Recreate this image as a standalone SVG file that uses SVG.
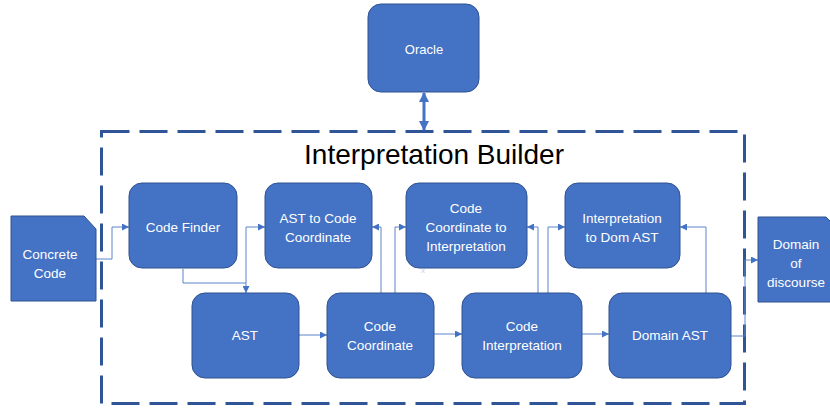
<svg xmlns="http://www.w3.org/2000/svg" width="830" height="409" viewBox="0 0 830 409">
<defs>
<style>
.box{fill:#4472C4;stroke:#2F528F;stroke-width:1}
.t{font-family:"Liberation Sans",Arial,sans-serif;font-size:13.5px;fill:#fff;text-anchor:middle}
.c{fill:none;stroke:#5B84CB;stroke-width:1}
</style>
<marker id="a" viewBox="0 0 10 10" refX="10" refY="5" markerWidth="7" markerHeight="7" markerUnits="userSpaceOnUse" orient="auto"><path d="M0,0 L10,5 L0,10 z" fill="#4472C4"/></marker>
<marker id="b" viewBox="0 0 10 10" refX="9" refY="5" markerWidth="3.5" markerHeight="3.5" orient="auto-start-reverse"><path d="M0,0 L10,5 L0,10 z" fill="#4472C4"/></marker>
</defs>
<rect x="101.5" y="131.5" width="643" height="272" fill="none" stroke="#2F5597" stroke-width="3" stroke-dasharray="28 10"/>
<text x="434" y="164" style="font-family:'Liberation Sans',Arial,sans-serif;font-size:28px;fill:#000;text-anchor:middle">Interpretation Builder</text>
<g id="connectors">
<line x1="424" y1="93" x2="424" y2="130" stroke="#4472C4" stroke-width="3" marker-start="url(#b)" marker-end="url(#b)"/>
<polyline class="c" points="96,259 112,259 112,227 129,227" marker-end="url(#a)"/>
<polyline class="c" points="183,269 183,283 246,283 246,293" marker-end="url(#a)"/>
<polyline class="c" points="246,283 246,227 265,227" marker-end="url(#a)"/>
<line class="c" x1="299" y1="335" x2="327" y2="335" marker-end="url(#a)"/>
<polyline class="c" points="381,293 381,227 372,227" marker-end="url(#a)"/>
<polyline class="c" points="395,293 395,227 406,227" marker-end="url(#a)"/>
<line class="c" x1="434" y1="334" x2="462" y2="334" marker-end="url(#a)"/>
<polyline class="c" points="538,293 538,227 527,227" marker-end="url(#a)"/>
<polyline class="c" points="548,293 548,227 565,227" marker-end="url(#a)"/>
<line class="c" x1="582" y1="334" x2="609" y2="334" marker-end="url(#a)"/>
<polyline class="c" points="706,293 706,227 680,227" marker-end="url(#a)"/>
<polyline class="c" points="731,336 745,336 745,260 758,260" marker-end="url(#a)"/>
</g>
<g id="oracle"><rect class="box" x="368" y="4" width="111" height="88" rx="13"/><text class="t" x="424" y="54" style="font-size:13px">Oracle</text></g>
<g id="concrete-code"><path class="box" d="M11,216 H84 L96,229 V301 H11 Z"/><text class="t" x="50" y="259">Concrete</text><text class="t" x="50" y="278">Code</text></g>
<g id="code-finder"><rect class="box" x="129" y="183" width="108" height="85" rx="13"/><text class="t" x="183" y="232">Code Finder</text></g>
<g id="ast-to-cc"><rect class="box" x="265" y="183" width="107" height="85" rx="13"/><text class="t" x="318" y="223">AST to Code</text><text class="t" x="318" y="242">Coordinate</text></g>
<g id="cc-to-interp"><rect class="box" x="406" y="183" width="121" height="85" rx="13"/><text class="t" x="466" y="213">Code</text><text class="t" x="466" y="232">Coordinate to</text><text class="t" x="466" y="251">Interpretation</text></g>
<text x="423" y="273" style="font-family:'Liberation Sans',Arial,sans-serif;font-size:8px;fill:#C8D2E6;text-anchor:middle">x</text>
<g id="interp-to-dom"><rect class="box" x="565" y="183" width="115" height="85" rx="13"/><text class="t" x="622" y="223">Interpretation</text><text class="t" x="622" y="242">to Dom AST</text></g>
<g id="domain-of-discourse"><path class="box" d="M758,217 H826 L834,225 V302 H758 Z"/><text class="t" x="796" y="249">Domain</text><text class="t" x="796" y="268">of</text><text class="t" x="796" y="287">discourse</text></g>
<g id="ast"><rect class="box" x="192" y="293" width="107" height="85" rx="13"/><text class="t" x="245" y="340">AST</text></g>
<g id="code-coordinate"><rect class="box" x="327" y="293" width="107" height="85" rx="13"/><text class="t" x="380" y="331">Code</text><text class="t" x="380" y="350">Coordinate</text></g>
<g id="code-interpretation"><rect class="box" x="462" y="293" width="120" height="85" rx="13"/><text class="t" x="522" y="331">Code</text><text class="t" x="522" y="350">Interpretation</text></g>
<g id="domain-ast"><rect class="box" x="609" y="293" width="122" height="85" rx="13"/><text class="t" x="670" y="340">Domain AST</text></g>
</svg>
